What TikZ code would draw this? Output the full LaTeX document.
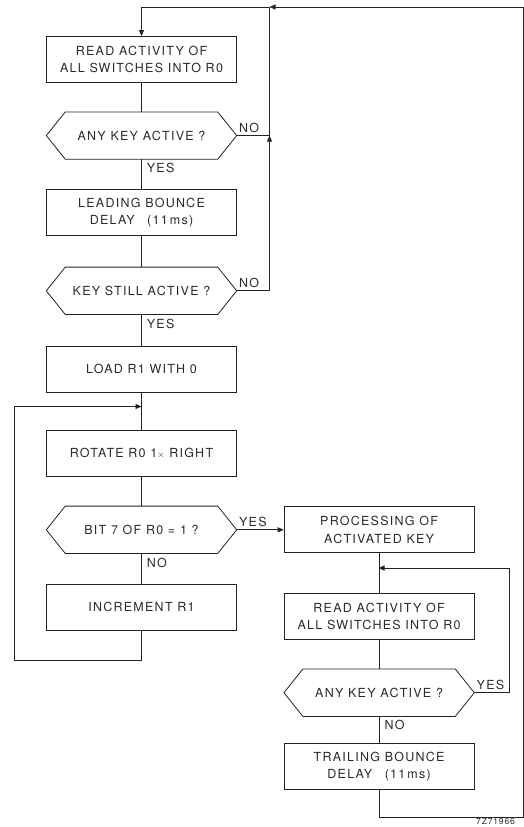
\documentclass[tikz,border=0pt]{standalone}
\usepackage{fontspec}
\setmainfont{TeX Gyre Heros}[LetterSpace=10]
\usetikzlibrary{arrows.meta,positioning}
\definecolor{inkline}{HTML}{222222}
\definecolor{inktext}{HTML}{2A2A2A}

% outline of a decision node (pointed left and right)
\newcommand{\drawhex}[1]{%
  \draw[flow] (#1.west) -- ([xshift=19pt]#1.north west) -- ([xshift=-19pt]#1.north east)
    -- (#1.east) -- ([xshift=-19pt]#1.south east) -- ([xshift=19pt]#1.south west) -- cycle;}

\begin{document}
\begin{tikzpicture}[x=1pt,y=-1pt,font=\fontsize{12.5}{17.5}\selectfont,
  flow/.style={draw=inkline,line width=0.8pt},
  arr/.style={flow,-{Triangle[length=6pt,width=5pt]}},
  stepbox/.style={flow,minimum width=190pt,minimum height=46pt,align=center,
                  inner sep=2pt,text=inktext},
  decision/.style={minimum width=190pt,minimum height=47pt,align=center,
                   inner sep=2pt,text=inktext},
  answer/.style={inner sep=2pt,text=inktext}]
  \useasboundingbox (0,0) rectangle (524,827);

  % left column
  \node[stepbox] (read1) at (141.5,59.5) {READ ACTIVITY OF\\ALL SWITCHES INTO R0};
  \node[decision,below=29pt of read1] (any1) {ANY KEY ACTIVE ?};
  \node[stepbox,below=30pt of any1] (lead) {LEADING BOUNCE\\DELAY\quad(11\,ms)};
  \node[decision,below=31pt of lead] (still) {KEY STILL ACTIVE ?};
  \node[stepbox,below=31pt of still] (load) {LOAD R1 WITH 0};
  \node[stepbox,below=38pt of load] (rot) {ROTATE R0 1{\small$\times$} RIGHT};
  \node[decision,below=29pt of rot] (bit7) {BIT 7 OF R0 = 1 ?};
  \node[stepbox,below=30pt of bit7] (inc) {INCREMENT R1};

  % right column
  \node[stepbox,right=47pt of bit7] (proc) {PROCESSING OF\\ACTIVATED KEY};
  \node[stepbox,below=40pt of proc] (read2) {READ ACTIVITY OF\\ALL SWITCHES INTO R0};
  \node[decision,below=29pt of read2] (any2) {ANY KEY ACTIVE ?};
  \node[stepbox,below=27pt of any2] (trail) {TRAILING BOUNCE\\DELAY\quad(11\,ms)};

  \drawhex{any1}
  \drawhex{still}
  \drawhex{bit7}
  \drawhex{any2}

  \coordinate (topjoin) at (269.5,7);
  \coordinate (loopin) at (141.5,406.5);
  \coordinate (loopin2) at (378.5,568);

  % main flow
  \draw[flow] (read1) -- (any1);
  \draw[flow] (any1) -- node[answer,anchor=west,pos=0.3,xshift=3pt]{YES} (lead);
  \draw[flow] (lead) -- (still);
  \draw[flow] (still) -- node[answer,anchor=west,pos=0.3,xshift=3pt]{YES} (load);
  \draw[flow] (load) -- (rot);
  \draw[flow] (rot) -- (bit7);
  \draw[flow] (bit7) -- node[answer,anchor=west,pos=0.3,xshift=3pt]{NO} (inc);
  \draw[arr] (bit7) -- node[answer,anchor=south west,pos=0,yshift=1pt]{YES} (proc);
  \draw[flow] (proc) -- (read2);
  \draw[flow] (read2) -- (any2);
  \draw[flow] (any2) -- node[answer,anchor=west,pos=0.3,xshift=3pt]{NO} (trail);

  % returns
  \draw[flow] (any1.east) node[answer,anchor=south west]{NO} -| (topjoin);
  \draw[arr] (still.east) node[answer,anchor=south west,yshift=1pt]{NO} -| (any1.east -| topjoin);
  \draw[arr] (inc.south) -- ++(0,30) -- ++(-127.5,0) |- (loopin);
  \draw[arr] (any2.east) node[answer,anchor=south west,yshift=1pt]{YES} -- ++(35,0) |- (loopin2);
  \draw[arr] (trail.south) -- ++(0,27) -- ++(144,0) |- (topjoin);
  \draw[arr] (topjoin) -| (read1.north);

  \node[anchor=west,inner sep=0pt,text=inktext,font=\fontsize{8.5}{10}\selectfont] (code) at (476,821) {7Z71966};
\end{tikzpicture}
\end{document}
